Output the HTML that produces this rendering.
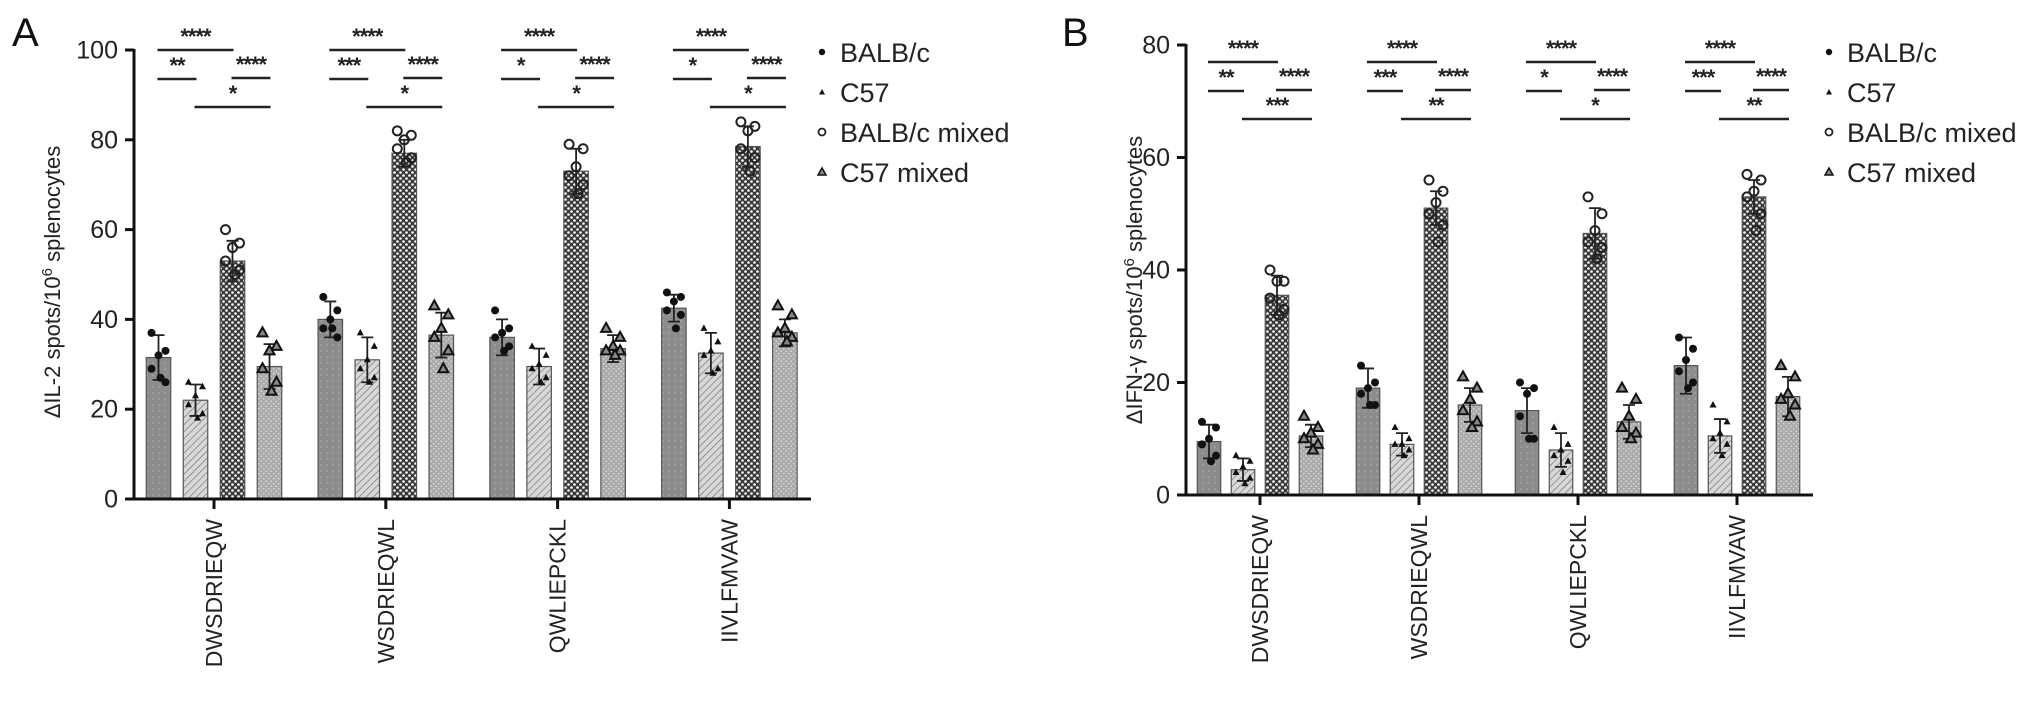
<!DOCTYPE html>
<html><head><meta charset="utf-8"><style>
html,body{margin:0;padding:0;background:#fff;}
svg{display:block;font-family:"Liberation Sans",Arial,sans-serif;}
</style></head><body>
<svg id="fig" width="2032" height="711" viewBox="0 0 2032 711" xmlns="http://www.w3.org/2000/svg">
<defs>
<pattern id="pDark" width="6" height="6" patternUnits="userSpaceOnUse"><rect width="6" height="6" fill="#8c8c8c"/><circle cx="3" cy="3" r="0.9" fill="#a8a8a8"/></pattern>
<pattern id="pHatch" width="5" height="5" patternUnits="userSpaceOnUse" patternTransform="rotate(45)"><rect width="5" height="5" fill="#d8d8d8"/><line x1="0" y1="0" x2="0" y2="5" stroke="#777" stroke-width="1.4"/></pattern>
<pattern id="pCheck" width="6" height="6" patternUnits="userSpaceOnUse"><rect width="6" height="6" fill="#3a3a3a"/><circle cx="1.5" cy="1.5" r="1.3" fill="#fff"/><circle cx="4.5" cy="4.5" r="1.3" fill="#fff"/></pattern>
<pattern id="pLight" width="5" height="5" patternUnits="userSpaceOnUse"><rect width="5" height="5" fill="#aaa"/><circle cx="1.25" cy="1.25" r="0.9" fill="#d6d6d6"/><circle cx="3.75" cy="3.75" r="0.9" fill="#d6d6d6"/></pattern>
</defs>
<g id="root"></g>
</svg>
<script>
// ----- data -----
const categories = ["DWSDRIEQW","WSDRIEQWL","QWLIEPCKL","IIVLFMVAW"];
const seriesNames = ["BALB/c","C57","BALB/c mixed","C57 mixed"];
const yTicksA = [0,20,40,60,80,100];
const yTicksB = [0,20,40,60,80];
// Panel A (IL-2) means and SDs, one array per series
const il2Balb = [31.5,40,36,42.5];
const il2C57 = [22,31,29.5,32.5];
const il2BalbMix = [53,77,73,78.5];
const il2C57Mix = [29.5,36.5,33.5,37];
const il2BalbSd = [5,4,4,3];
const il2C57Sd = [3.5,5,4,4.5];
const il2BalbMixSd = [4.5,3,5,4.5];
const il2C57MixSd = [5,5,3,3];
// Panel B (IFN-gamma)
const ifnBalb = [9.5,19,15,23];
const ifnC57 = [4.5,9,8,10.5];
const ifnBalbMix = [35.5,51,46.5,53];
const ifnC57Mix = [10.5,16,13,17.5];
const ifnBalbSd = [3,3.5,4,5];
const ifnC57Sd = [2,2,3,3];
const ifnBalbMixSd = [3.5,3,4.5,3];
const ifnC57MixSd = [2,3,3,3.5];
// individual points [category][series]
const il2Points = [
 [[37,33,32,29,26,27],[26,25,23,21,19,18],[60,57,56,53,51,50],[37,34,33,29,26,24]],
 [[45,42,40,38,36,38],[37,34,31,29,27,26],[82,81,80,78,76,75],[43,41,38,36,33,29]],
 [[42,38,37,36,34,33],[34,32,30,29,27,26],[79,78,74,72,70,68],[38,36,34,33,33,32]],
 [[46,45,44,42,41,38],[38,35,33,32,29,28],[84,83,82,78,76,73],[43,41,38,37,36,35]]
];
const ifnPoints = [
 [[13,12,10,9,7,6],[7,6,5,4,3,2],[40,38,38,35,33,32],[14,12,11,10,9,8]],
 [[23,20,19,18,16,16],[12,10,9,9,8,7],[56,54,52,50,48,45],[21,19,17,15,13,12]],
 [[20,19,18,14,10,10],[12,9,8,7,6,4],[53,50,47,45,44,42],[19,17,14,12,11,10]],
 [[28,26,24,22,20,19],[16,13,11,10,9,7],[57,56,54,53,50,47],[23,21,18,17,16,14]]
];
// significance: [from series, to series]
const sigPairs = [[0,2],[0,1],[2,3],[1,3]];
const sigA = [["****","**","****","*"],["****","***","****","*"],["****","*","****","*"],["****","*","****","*"]];
const sigB = [["****","**","****","***"],["****","***","****","**"],["****","*","****","*"],["****","***","****","**"]];

const NS="http://www.w3.org/2000/svg";
const root=document.getElementById('root');
function mk(tag,attrs,parent,text){const e=document.createElementNS(NS,tag);for(const k in attrs)e.setAttribute(k,attrs[k]);if(text!==undefined)e.textContent=text;(parent||root).appendChild(e);return e;}

const fills=["url(#pDark)","url(#pHatch)","url(#pCheck)","url(#pLight)"];
const jitter=[-7,7,0,-7,7,2];

function marker(g,s,x,y){
  let m;
  if(s===0){m=mk('circle',{cx:x,cy:y,r:4,fill:'#111'},g);}
  else if(s===1){m=mk('path',{d:`M${x},${y-4} L${x+3.5},${y+2.5} L${x-3.5},${y+2.5} Z`,fill:'#111'},g);}
  else if(s===2){m=mk('circle',{cx:x,cy:y,r:4.5,fill:'none',stroke:'#222','stroke-width':2},g);}
  else {m=mk('path',{d:`M${x},${y-5.5} L${x+5},${y+3.5} L${x-5},${y+3.5} Z`,fill:'#888',stroke:'#111','stroke-width':2},g);}
  
  
}

function panel(cfg){
  const P=mk('g',{},root);
  
  
  const yS=v=>cfg.y0-(v/cfg.ymax)*(cfg.y0-cfg.yTop);
  const gx=i=>cfg.g0+i*cfg.gStep;
  const bx=(i,s)=>gx(i)+(s-1.5)*cfg.pitch;
  const L=mk('text',{x:cfg.letterX,y:46,'font-size':40,fill:'#111'},P,cfg.letter);
  
  
  const ya=mk('line',{x1:cfg.ax,y1:cfg.yTop-1,x2:cfg.ax,y2:cfg.y0+1.5,stroke:'#111','stroke-width':3},P);
  
  
  cfg.ticks.forEach(t=>{
    const y=yS(t);
    const tl=mk('line',{x1:cfg.ax-9,y1:y,x2:cfg.ax,y2:y,stroke:'#111','stroke-width':3},P);
    
    
    const tt=mk('text',{x:cfg.ax-16,y:y+8.5,'font-size':25,'text-anchor':'end',fill:'#222'},P,String(t));
    
    
  });
  const yt=mk('text',{x:0,y:0,'font-size':22,'text-anchor':'middle',fill:'#222',transform:`translate(${cfg.titleX},${cfg.titleY}) rotate(-90)`},P);
  
  
  mk('tspan',{},yt,cfg.title1);
  mk('tspan',{'baseline-shift':'super','font-size':15},yt,'6');
  mk('tspan',{},yt,' splenocytes');
  categories.forEach((c,i)=>{
    for(let s=0;s<4;s++){
      const m=cfg.means[s][i], sd=cfg.sds[s][i];
      const x=bx(i,s), w=cfg.bw;
      const r=mk('rect',{x:x-w/2,y:yS(m),width:w,height:cfg.y0-yS(m),fill:fills[s],stroke:'#555','stroke-width':1.2},P);
      
      
      const e=mk('path',{d:`M${x},${yS(m-sd)} L${x},${yS(m+sd)} M${x-6},${yS(m+sd)} L${x+6},${yS(m+sd)} M${x-6},${yS(m-sd)} L${x+6},${yS(m-sd)}`,stroke:'#222','stroke-width':1.8,fill:'none'},P);
      
      
      cfg.points[i][s].forEach((v,k)=>marker(P,s,x+jitter[k],yS(v)));
    }
    cfg.sig[i].forEach((st,k)=>{
      const [a,b]=sigPairs[k];
      const ly=cfg.sigY[k];
      const x1=bx(i,a)-1,x2=bx(i,b)+1;
      const l=mk('line',{x1:x1,y1:ly,x2:x2,y2:ly,stroke:'#222','stroke-width':2.5},P);
      
      
      const t=mk('text',{x:(x1+x2)/2,y:ly-6,'font-size':22,'font-weight':'bold','text-anchor':'middle',fill:'#222','letter-spacing':'-1'},P,st);
      
      
    });
    const xt=mk('line',{x1:gx(i),y1:cfg.y0,x2:gx(i),y2:cfg.y0+10,stroke:'#111','stroke-width':3},P);
    
    
    const xl=mk('text',{x:0,y:0,'font-size':23,'text-anchor':'end',fill:'#222',transform:`translate(${gx(i)+8},${cfg.y0+20}) rotate(-90)`},P,c);
    
    
  });
  const xa=mk('line',{x1:cfg.ax-1.5,y1:cfg.y0,x2:cfg.xEnd,y2:cfg.y0,stroke:'#111','stroke-width':3},P);
  
  
  seriesNames.forEach((n,s)=>{
    const y=cfg.legY+s*40;
    const g=mk('g',{},P);
    
    
    if(s===0) mk('circle',{cx:cfg.legX,cy:y,r:3.2,fill:'#111'},g);
    else if(s===1) mk('path',{d:`M${cfg.legX},${y-3} L${cfg.legX+3},${y+2.5} L${cfg.legX-3},${y+2.5} Z`,fill:'#111'},g);
    else if(s===2) mk('circle',{cx:cfg.legX,cy:y,r:3.5,fill:'none',stroke:'#222','stroke-width':1.8},g);
    else mk('path',{d:`M${cfg.legX},${y-4} L${cfg.legX+4},${y+3} L${cfg.legX-4},${y+3} Z`,fill:'#888',stroke:'#111','stroke-width':1.5},g);
    mk('text',{x:cfg.legX+18,y:y+10,'font-size':27,fill:'#222'},g,n);
  });
}

panel({name:'panel-a-il2',letter:'A',letterX:12,ax:134,y0:499,yTop:50,ymax:100,ticks:yTicksA,
  g0:214,gStep:171.8,pitch:37,bw:24.5,xEnd:811,titleX:60,titleY:282,title1:'\u0394IL-2 spots/10',
  means:[il2Balb,il2C57,il2BalbMix,il2C57Mix],sds:[il2BalbSd,il2C57Sd,il2BalbMixSd,il2C57MixSd],
  points:il2Points,sig:sigA,sigY:[50,79,78,107],legX:822,legY:52});
panel({name:'panel-b-ifng',letter:'B',letterX:1062,ax:1186,y0:495,yTop:45,ymax:80,ticks:yTicksB,
  g0:1260,gStep:159,pitch:34,bw:23.5,xEnd:1813,titleX:1142,titleY:280,title1:'\u0394IFN-\u03b3 spots/10',
  means:[ifnBalb,ifnC57,ifnBalbMix,ifnC57Mix],sds:[ifnBalbSd,ifnC57Sd,ifnBalbMixSd,ifnC57MixSd],
  points:ifnPoints,sig:sigB,sigY:[62,91,90,119],legX:1829,legY:52});
</script>
</body></html>
